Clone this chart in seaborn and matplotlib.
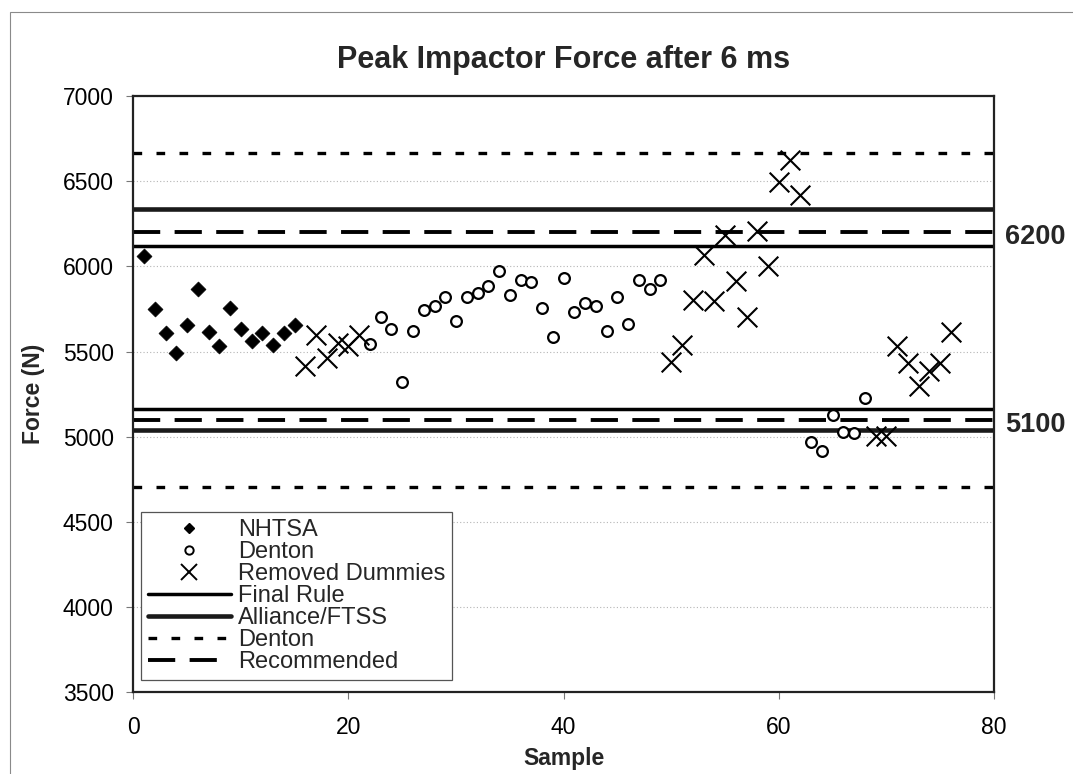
import matplotlib
matplotlib.use("Agg")
import matplotlib.pyplot as plt
from matplotlib.lines import Line2D
from matplotlib.patches import Rectangle
import seaborn as sns
import pandas as pd

# ---------------- data ----------------
nhtsa_x = list(range(1, 16))
nhtsa_y = [6060, 5750, 5610, 5490, 5655, 5865, 5615, 5530, 5755, 5630,
           5560, 5610, 5540, 5610, 5655]

denton_x = list(range(22, 50)) + list(range(63, 69))
denton_y = [5545, 5700, 5635, 5320, 5620, 5745, 5770, 5820, 5680, 5820,
            5845, 5885, 5975, 5830, 5920, 5910, 5755, 5585, 5930, 5730,
            5785, 5765, 5620, 5820, 5660, 5920, 5865, 5920,
            4970, 4915, 5125, 5025, 5020, 5225]

removed_x = list(range(16, 22)) + list(range(50, 63)) + list(range(69, 77))
removed_y = [5415, 5595, 5460, 5550, 5530, 5595,
             5440, 5540, 5800, 6065, 5795, 6185, 5915, 5705, 6205, 6000,
             6495, 6625, 6420,
             5005, 5005, 5530, 5430, 5295, 5385, 5430, 5615]

final_rule = [5165, 6120]
alliance_ftss = [5040, 6335]
denton_limits = [4705, 6665]
recommended = [5100, 6200]

side_labels = ["6200", "5100"]
side_values = [6200, 5100]

title = "Peak Impactor Force after 6 ms"
xlabel = "Sample"
ylabel = "Force (N)"
xticks = [0, 20, 40, 60, 80]
yticks = [3500, 4000, 4500, 5000, 5500, 6000, 6500, 7000]

# ---------------- style ----------------
sns.set_theme(style="white")
plt.rcParams['font.family'] = ['Liberation Sans', 'DejaVu Sans']

fig = plt.figure(figsize=(10.73, 7.74), dpi=100)
fig.patch.set_facecolor("white")
ax = fig.add_axes([0.1242, 0.1055, 0.8022, 0.7705])

# outer chart border (cropped)
fig.patches.append(Rectangle((10 / 1073, -0.05), 1.2, 1 - 12 / 774 + 0.05,
                             transform=fig.transFigure, fill=False,
                             edgecolor="#8a8a8a", linewidth=0.8))

# reference lines
for v in final_rule:
    ax.axhline(v, color="black", lw=2.5, zorder=2)
for v in alliance_ftss:
    ax.axhline(v, color="#1a1a1a", lw=3.3, zorder=2)
for v in denton_limits:
    ax.axhline(v, color="black", lw=2.4, dashes=(2.6, 4.3), zorder=2)
for v in recommended:
    ax.axhline(v, color="black", lw=2.8, dashes=(7.0, 3.7), zorder=2)

df_n = pd.DataFrame({"x": nhtsa_x, "y": nhtsa_y})
df_d = pd.DataFrame({"x": denton_x, "y": denton_y})
df_r = pd.DataFrame({"x": removed_x, "y": removed_y})

sns.scatterplot(data=df_n, x="x", y="y", marker="D", s=58, color="black",
                edgecolor="black", linewidth=0.5, ax=ax, zorder=4, legend=False)
sns.scatterplot(data=df_d, x="x", y="y", marker="o", s=60, color="black",
                linewidth=1.6, ax=ax, zorder=4, legend=False)
coll = ax.collections[-1]
coll.set_facecolor("white")
coll.set_edgecolor("black")
sns.scatterplot(data=df_r, x="x", y="y", marker="x", s=200, color="black",
                linewidth=1.5, ax=ax, zorder=4, legend=False)

ax.set_xlim(0, 80)
ax.set_ylim(3500, 7000)
ax.set_xticks(xticks)
ax.set_yticks(yticks)
ax.yaxis.grid(True, color="#b5b5b5", linestyle=(0, (1, 2)), lw=0.8)
ax.xaxis.grid(False)
ax.set_axisbelow(True)
ax.tick_params(axis="both", direction="out", length=5, width=0.8,
               color="#777777", labelsize=16.5, labelcolor="black",
               left=True, bottom=True)
ax.tick_params(axis="y", pad=9)
ax.tick_params(axis="x", pad=12)
for s in ax.spines.values():
    s.set_visible(True)
    s.set_color("#222222")
    s.set_linewidth(1.6)

ax.set_title(title, fontsize=22, fontweight="bold", pad=20)
ax.set_xlabel(xlabel, fontsize=16.5, fontweight="bold", labelpad=6)
ax.set_ylabel(ylabel, fontsize=16.5, fontweight="bold", labelpad=13)

for lab, v in zip(side_labels, side_values):
    ax.text(81.0, v - 30, lab, fontsize=19.5, fontweight="bold",
            va="center", ha="left", clip_on=False)

handles = [
    Line2D([], [], marker="D", color="black", linestyle="None", markersize=5.4),
    Line2D([], [], marker="o", color="black", markerfacecolor="white",
           linestyle="None", markersize=6.0, markeredgewidth=1.4),
    Line2D([], [], marker="x", color="black", linestyle="None",
           markersize=11.5, markeredgewidth=1.4),
    Line2D([], [], color="black", lw=2.5),
    Line2D([], [], color="#1a1a1a", lw=3.3),
    Line2D([], [], color="black", lw=2.4, dashes=(2.6, 4.3)),
    Line2D([], [], color="black", lw=2.8, dashes=(7.0, 3.7)),
]
labels = ["NHTSA", "Denton", "Removed Dummies", "Final Rule",
          "Alliance/FTSS", "Denton", "Recommended"]
leg = ax.legend(handles, labels, loc="lower left",
                bbox_to_anchor=(0.009, 0.02), borderaxespad=0,
                fontsize=17, handlelength=3.5, handletextpad=0.3,
                labelspacing=0.0, borderpad=0.3, frameon=True,
                fancybox=False, framealpha=1, edgecolor="#555555")
leg.get_frame().set_linewidth(0.9)
leg.set_zorder(5)

fig.savefig("out.png", dpi=100, facecolor="white")
